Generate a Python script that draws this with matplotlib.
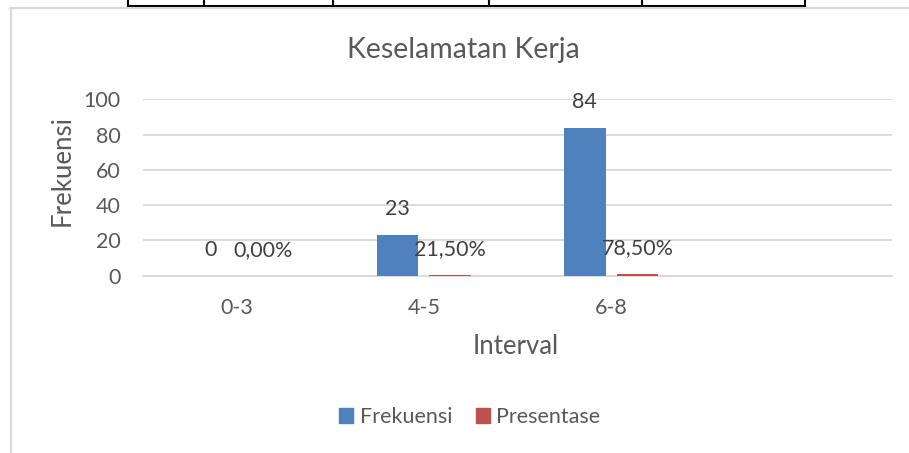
import matplotlib.pyplot as plt
from matplotlib.lines import Line2D
from matplotlib.patches import Patch

# Data
categories = ['0-3', '4-5', '6-8', '']
frekuensi = [0, 23, 84, None]
presentase = [0.0, 0.215, 0.785, None]
frek_labels = ['0', '23', '84']
pres_labels = ['0,00%', '21,50%', '78,50%']

blue = '#4F81BD'
red = '#C0504D'
text_grey = '#595959'
grid_grey = '#D9D9D9'

plt.rcParams['font.family'] = ['Lato', 'DejaVu Sans']

W, H = 909, 453
fig = plt.figure(figsize=(W / 100, H / 100), dpi=100)

# Plot area placed in pixel terms
left, right, top, bottom = 143, 892, 99.3, 275.7
ax = fig.add_axes([left / W, 1 - bottom / H, (right - left) / W, (bottom - top) / H])

x = list(range(len(categories)))
width = 0.223
off = 0.141

fx = [i - off for i in x[:3]]
px = [i + off for i in x[:3]]
ax.bar(fx, frekuensi[:3], width=width, color=blue, zorder=3)
ax.bar(px, presentase[:3], width=width, color=red, zorder=3)

for xi, v, lab in zip(fx, frekuensi[:3], frek_labels):
    ax.annotate(lab, (xi, v), xytext=(0, 18.7), textcoords='offset points',
                ha='center', va='center', fontsize=15.5, color='#404040')
for xi, v, lab in zip(px, presentase[:3], pres_labels):
    ax.annotate(lab, (xi, v), xytext=(0, 18.7), textcoords='offset points',
                ha='center', va='center', fontsize=15.5, color='#404040')

ax.set_xlim(-0.5, 3.5)
ax.set_ylim(0, 100)
ax.set_yticks([0, 20, 40, 60, 80, 100])
ax.set_xticks(x)
ax.set_xticklabels(categories)
ax.yaxis.grid(True, color=grid_grey, linewidth=1.3, zorder=0)
ax.set_axisbelow(True)
for s in ['top', 'right', 'left']:
    ax.spines[s].set_visible(False)
ax.spines['bottom'].set_color(grid_grey)
ax.spines['bottom'].set_linewidth(1.3)
ax.tick_params(axis='both', length=0, labelsize=15.5, colors=text_grey)
ax.tick_params(axis='y', pad=16)
ax.tick_params(axis='x', pad=16)

fig.text(463 / W, 1 - 50 / H, 'Keselamatan Kerja', ha='center', va='center',
         fontsize=20.5, color=text_grey)
fig.text(516 / W, 1 - 347 / H, 'Interval', ha='center', va='center',
         fontsize=18.5, color=text_grey)
fig.text(62 / W, 1 - 171 / H, 'Frekuensi', ha='center', va='center',
         rotation=90, fontsize=18.5, color=text_grey)

handles = [Patch(color=blue, label='Frekuensi'), Patch(color=red, label='Presentase')]
fig.legend(handles=handles, loc='center', bbox_to_anchor=(470 / W, 1 - 417 / H),
           ncol=2, frameon=False, fontsize=15.5, handlelength=0.65, handleheight=0.65,
           handletextpad=0.3, columnspacing=1.1, labelcolor=text_grey)

# Document table border above the chart and chart frame
def fline(xs, ys, **kw):
    fig.add_artist(Line2D([v / W for v in xs], [1 - v / H for v in ys], **kw))

fline([128, 805], [6, 6], color='black', linewidth=1.5)
for vx in [128, 204, 333, 489, 642, 805]:
    fline([vx, vx], [0, 6], color='black', linewidth=1.5)
fline([10, W], [7.5, 7.5], color=grid_grey, linewidth=1.5)
fline([11, 11], [7.5, H], color=grid_grey, linewidth=1.5)

fig.savefig('out.png', dpi=100)
